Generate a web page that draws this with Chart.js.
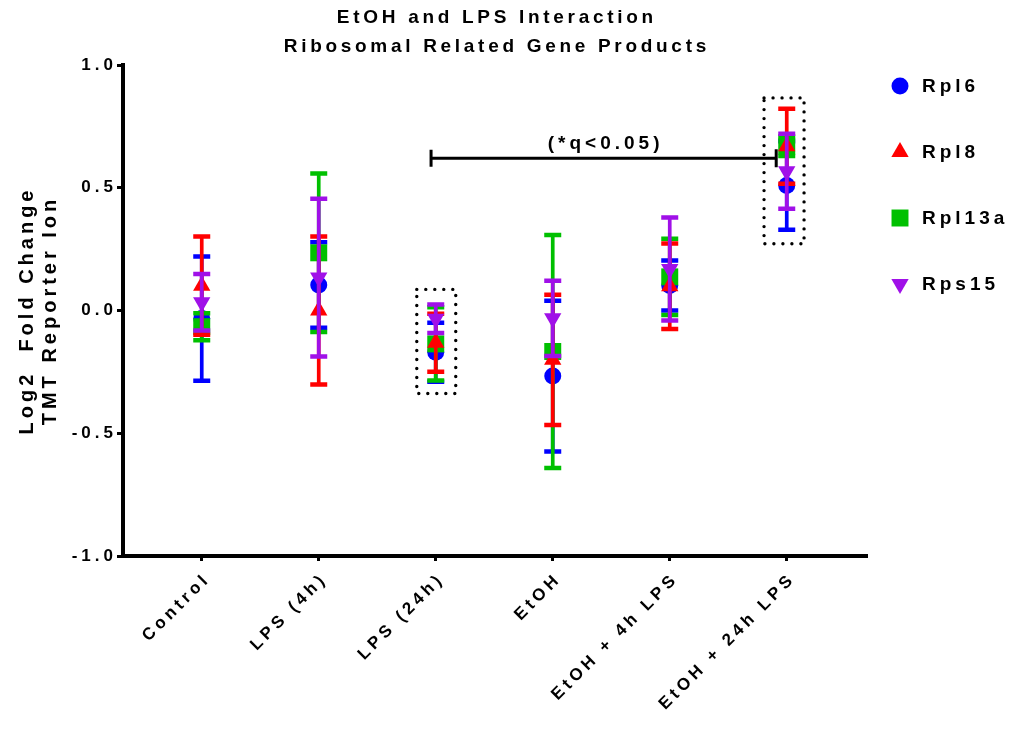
<!DOCTYPE html>
<html>
<head>
<meta charset="utf-8">
<script src="https://cdn.jsdelivr.net/npm/chart.js@4/dist/chart.umd.min.js"></script>
<style>
  html, body { margin: 0; padding: 0; background: #ffffff; }
  #wrap { width: 1016px; height: 729px; }
</style>
</head>
<body>
<div id="wrap"><canvas id="chart" width="1016" height="729"></canvas></div>
<script>
// Groups on the x axis
const categories = ['Control', 'LPS (4h)', 'LPS (24h)', 'EtOH', 'EtOH + 4h LPS', 'EtOH + 24h LPS'];

// Log2 fold change (mean) and SEM per gene product
const rpl6Mean   = [-0.033, 0.104, -0.170, -0.267, 0.102, 0.509];
const rpl6Sem    = [ 0.253, 0.174,  0.120,  0.307, 0.102, 0.180];
const rpl8Mean   = [ 0.101, 0.000, -0.131, -0.201, 0.099, 0.669];
const rpl8Sem    = [ 0.200, 0.301,  0.118,  0.265, 0.174, 0.153];
const rpl13aMean = [-0.066, 0.235, -0.136, -0.167, 0.137, 0.669];
const rpl13aSem  = [ 0.055, 0.323,  0.149,  0.475, 0.155, 0.040];
const rps15Mean  = [ 0.034, 0.134, -0.034, -0.032, 0.169, 0.567];
const rps15Sem   = [ 0.115, 0.321,  0.058,  0.153, 0.210, 0.153];

// Y axis tick values
const yTicks = [-1.0, -0.5, 0.0, 0.5, 1.0];

// Titles and significance note
const titleLines = ['EtOH and LPS Interaction', 'Ribosomal Related Gene Products'];
const yTitleLines = ['Log2  Fold Change', 'TMT Reporter Ion'];
const sigLabel = '(*q<0.05)';

const FONT = "'Liberation Sans', Arial, Helvetica, sans-serif";
const SPACING = '4px';

const series = [
  { label: 'Rpl6',   mean: rpl6Mean,   sem: rpl6Sem,   color: '#0000ff', style: 'circle',   radius: 8.5, rotation: 0,   order: 3 },
  { label: 'Rpl8',   mean: rpl8Mean,   sem: rpl8Sem,   color: '#ff0000', style: 'triangle', radius: 10,  rotation: 0,   order: 1 },
  { label: 'Rpl13a', mean: rpl13aMean, sem: rpl13aSem, color: '#00c000', style: 'rect',     radius: 12,  rotation: 0,   order: 2 },
  { label: 'Rps15',  mean: rps15Mean,  sem: rps15Sem,  color: '#a010e8', style: 'triangle', radius: 10,  rotation: 180, order: 0 }
];

// Significance bracket and highlight frames, in data units
const sigBracket = { from: 1.96, to: 4.91, y: 0.62 };
const frames = [
  { x0: 1.838, x1: 2.171, y0: -0.338, y1: 0.086 },
  { x0: 4.806, x1: 5.148, y0: 0.272, y1: 0.866 }
];

// Wide letter spacing for all canvas text
const spacingPlugin = {
  id: 'spacing',
  beforeUpdate(chart) { chart.ctx.letterSpacing = SPACING; },
  beforeDraw(chart) { chart.ctx.letterSpacing = SPACING; }
};

// Vertical SEM bars with caps, drawn under each dataset's markers
const errorBarPlugin = {
  id: 'errorBars',
  beforeDatasetDraw(chart, args) {
    const s = series[args.index];
    const { ctx } = chart;
    const x = chart.scales.x, y = chart.scales.y;
    ctx.save();
    ctx.strokeStyle = s.color;
    ctx.lineCap = 'butt';
    s.mean.forEach((m, i) => {
      const px = x.getPixelForValue(i);
      const top = y.getPixelForValue(m + s.sem[i]);
      const bot = y.getPixelForValue(m - s.sem[i]);
      ctx.lineWidth = 3.7;
      ctx.beginPath();
      ctx.moveTo(px, top);
      ctx.lineTo(px, bot);
      ctx.stroke();
      ctx.lineWidth = 4.5;
      ctx.beginPath();
      ctx.moveTo(px - 8.5, top); ctx.lineTo(px + 8.5, top);
      ctx.moveTo(px - 8.5, bot); ctx.lineTo(px + 8.5, bot);
      ctx.stroke();
    });
    ctx.restore();
  }
};

function drawMarker(ctx, s, cx, cy) {
  ctx.fillStyle = s.color;
  if (Chart.helpers && Chart.helpers.drawPoint) {
    Chart.helpers.drawPoint(ctx, { pointStyle: s.style, rotation: s.rotation, radius: s.radius, borderWidth: 0 }, cx, cy);
    return;
  }
  ctx.beginPath();
  if (s.style === 'circle') {
    ctx.arc(cx, cy, s.radius, 0, Math.PI * 2);
  } else if (s.style === 'rect') {
    const h = s.radius * Math.SQRT1_2;
    ctx.rect(cx - h, cy - h, 2 * h, 2 * h);
  } else {
    let a = s.rotation * Math.PI / 180;
    for (let k = 0; k < 3; k++) {
      const px = cx + Math.sin(a) * s.radius, py = cy - Math.cos(a) * s.radius;
      k ? ctx.lineTo(px, py) : ctx.moveTo(px, py);
      a += 2 * Math.PI / 3;
    }
    ctx.closePath();
  }
  ctx.fill();
}

// Title, significance bracket, dotted frames and legend
const decorPlugin = {
  id: 'decor',
  afterDatasetsDraw(chart) {
    const { ctx, chartArea } = chart;
    const x = chart.scales.x, y = chart.scales.y;
    ctx.save();

    // dotted frames
    ctx.strokeStyle = '#000';
    ctx.lineWidth = 3.4;
    ctx.lineCap = 'round';
    ctx.setLineDash([0, 9]);
    frames.forEach(f => {
      const l = x.getPixelForValue(f.x0), r = x.getPixelForValue(f.x1);
      const t = y.getPixelForValue(f.y1), b = y.getPixelForValue(f.y0);
      ctx.beginPath();
      ctx.rect(l, t, r - l, b - t);
      ctx.stroke();
    });
    ctx.setLineDash([]);

    // bracket
    const bl = x.getPixelForValue(sigBracket.from), br = x.getPixelForValue(sigBracket.to);
    const by = y.getPixelForValue(sigBracket.y);
    ctx.lineCap = 'butt';
    ctx.lineWidth = 3;
    ctx.beginPath();
    ctx.moveTo(bl, by); ctx.lineTo(br, by);
    ctx.moveTo(bl, by - 8.5); ctx.lineTo(bl, by + 8.5);
    ctx.moveTo(br, by - 9); ctx.lineTo(br, by + 9);
    ctx.stroke();
    ctx.fillStyle = '#000';
    ctx.letterSpacing = '4px';
    ctx.font = 'bold 19px ' + FONT;
    ctx.textAlign = 'center';
    ctx.textBaseline = 'middle';
    ctx.fillText(sigLabel, (bl + br) / 2 + 2, by - 15);

    // title
    ctx.letterSpacing = '3.7px';
    const cx = (chartArea.left + chartArea.right) / 2 + 1.85;
    ctx.fillText(titleLines[0], cx, 18);
    ctx.fillText(titleLines[1], cx, 47);

    // legend
    ctx.letterSpacing = '4px';
    ctx.textAlign = 'left';
    const lx = chartArea.right + 33;
    series.forEach((s, i) => {
      const ly = chartArea.top + 21 + i * 66;
      drawMarker(ctx, s, lx, ly);
      ctx.fillStyle = '#000';
      ctx.fillText(s.label, lx + 22, ly + 1);
    });
    ctx.restore();
  }
};

const datasets = series.map(s => ({
  label: s.label,
  data: s.mean.map((v, i) => ({ x: i, y: v })),
  showLine: false,
  pointStyle: s.style,
  pointRadius: s.radius,
  pointHoverRadius: s.radius,
  pointRotation: s.rotation,
  backgroundColor: s.color,
  borderColor: s.color,
  borderWidth: 0,
  order: s.order,
  clip: false
}));

const tickFont = { family: FONT, size: 17, weight: 'bold' };

new Chart(document.getElementById('chart'), {
  type: 'scatter',
  data: { datasets },
  plugins: [spacingPlugin, errorBarPlugin, decorPlugin],
  options: {
    responsive: false,
    animation: false,
    devicePixelRatio: 1,
    events: [],
    layout: { padding: { top: 65, right: 149, bottom: 0, left: 0 } },
    plugins: { legend: { display: false }, tooltip: { enabled: false }, title: { display: false } },
    scales: {
      x: {
        type: 'linear',
        min: -0.673,
        max: 5.686,
        afterBuildTicks: scale => { scale.ticks = categories.map((_, i) => ({ value: i })); },
        afterFit: scale => { scale.height = 173; },
        ticks: {
          autoSkip: false,
          minRotation: 45,
          maxRotation: 45,
          padding: 8,
          labelOffset: 6,
          color: '#000',
          font: tickFont,
          callback: v => categories[v]
        },
        grid: { drawOnChartArea: false, drawTicks: true, tickLength: 5, tickWidth: 3, tickColor: '#000' },
        border: { display: true, color: '#000', width: 4 }
      },
      y: {
        type: 'linear',
        min: -1,
        max: 1,
        afterBuildTicks: scale => { scale.ticks = yTicks.map(v => ({ value: v })); },
        afterFit: scale => { scale.width = 123; },
        ticks: {
          padding: 0,
          color: '#000',
          font: tickFont,
          callback: v => v.toFixed(1)
        },
        grid: { drawOnChartArea: false, drawTicks: true, tickLength: 6, tickWidth: 3, tickColor: '#000' },
        border: { display: true, color: '#000', width: 4 },
        title: {
          display: true,
          text: yTitleLines,
          color: '#000',
          font: { family: FONT, size: 20, weight: 'bold', lineHeight: 1.15 },
          padding: { top: 15.5, bottom: 0 }
        }
      }
    }
  }
});
</script>
</body>
</html>
